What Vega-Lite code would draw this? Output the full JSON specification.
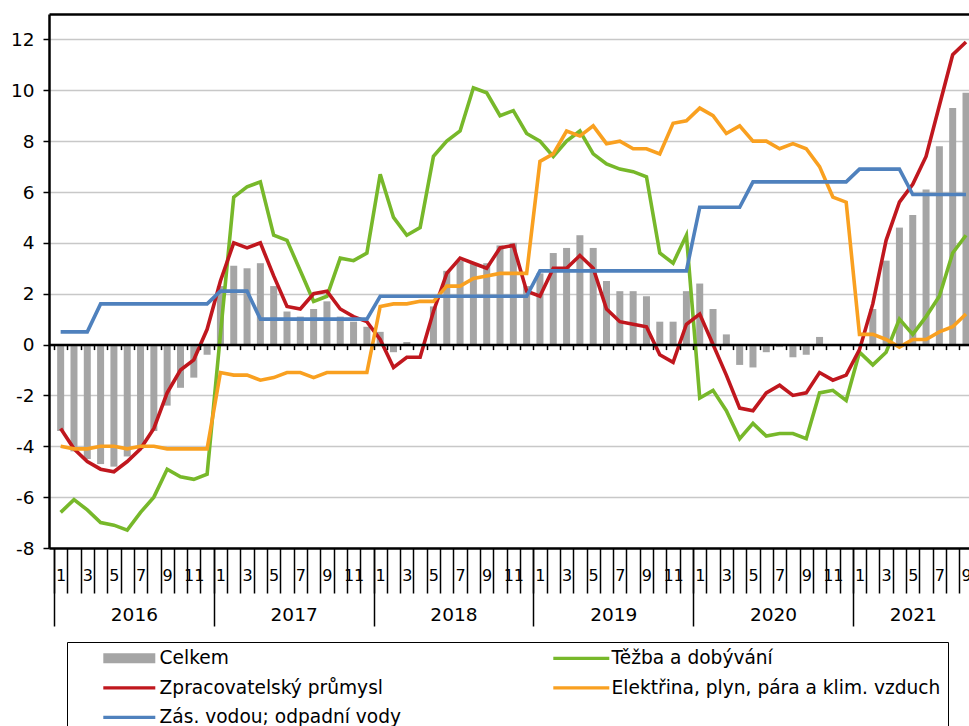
{
  "$schema": "https://vega.github.io/schema/vega-lite/v6.json",
  "width": 920,
  "height": 534,
  "autosize": {"type": "none"},
  "padding": {"left": 49, "top": 14, "right": 0, "bottom": 178},
  "config": {
    "view": {"stroke": null},
    "font": "DejaVu Sans",
    "axis": {"labelFont": "DejaVu Sans", "labelColor": "#000", "title": null}
  },
  "data": {"values": [
    {"m":0,"c":-3.4,"t":-6.6,"z":-3.3,"e":-4.0,"v":0.5},
    {"m":1,"c":-4.2,"t":-6.1,"z":-4.1,"e":-4.1,"v":0.5},
    {"m":2,"c":-4.5,"t":-6.5,"z":-4.6,"e":-4.1,"v":0.5},
    {"m":3,"c":-4.7,"t":-7.0,"z":-4.9,"e":-4.0,"v":1.6},
    {"m":4,"c":-4.8,"t":-7.1,"z":-5.0,"e":-4.0,"v":1.6},
    {"m":5,"c":-4.4,"t":-7.3,"z":-4.6,"e":-4.1,"v":1.6},
    {"m":6,"c":-4.1,"t":-6.6,"z":-4.1,"e":-4.0,"v":1.6},
    {"m":7,"c":-3.4,"t":-6.0,"z":-3.3,"e":-4.0,"v":1.6},
    {"m":8,"c":-2.4,"t":-4.9,"z":-1.9,"e":-4.1,"v":1.6},
    {"m":9,"c":-1.7,"t":-5.2,"z":-1.0,"e":-4.1,"v":1.6},
    {"m":10,"c":-1.3,"t":-5.3,"z":-0.6,"e":-4.1,"v":1.6},
    {"m":11,"c":-0.4,"t":-5.1,"z":0.6,"e":-4.1,"v":1.6},
    {"m":12,"c":2.3,"t":0.4,"z":2.5,"e":-1.1,"v":2.1},
    {"m":13,"c":3.1,"t":5.8,"z":4.0,"e":-1.2,"v":2.1},
    {"m":14,"c":3.0,"t":6.2,"z":3.8,"e":-1.2,"v":2.1},
    {"m":15,"c":3.2,"t":6.4,"z":4.0,"e":-1.4,"v":1.0},
    {"m":16,"c":2.3,"t":4.3,"z":2.7,"e":-1.3,"v":1.0},
    {"m":17,"c":1.3,"t":4.1,"z":1.5,"e":-1.1,"v":1.0},
    {"m":18,"c":1.1,"t":2.9,"z":1.4,"e":-1.1,"v":1.0},
    {"m":19,"c":1.4,"t":1.7,"z":2.0,"e":-1.3,"v":1.0},
    {"m":20,"c":1.7,"t":1.9,"z":2.1,"e":-1.1,"v":1.0},
    {"m":21,"c":1.1,"t":3.4,"z":1.4,"e":-1.1,"v":1.0},
    {"m":22,"c":0.9,"t":3.3,"z":1.1,"e":-1.1,"v":1.0},
    {"m":23,"c":0.7,"t":3.6,"z":0.9,"e":-1.1,"v":1.0},
    {"m":24,"c":0.5,"t":6.7,"z":0.2,"e":1.5,"v":1.9},
    {"m":25,"c":-0.3,"t":5.0,"z":-0.9,"e":1.6,"v":1.9},
    {"m":26,"c":0.1,"t":4.3,"z":-0.5,"e":1.6,"v":1.9},
    {"m":27,"c":0.0,"t":4.6,"z":-0.5,"e":1.7,"v":1.9},
    {"m":28,"c":1.5,"t":7.4,"z":1.3,"e":1.7,"v":1.9},
    {"m":29,"c":2.9,"t":8.0,"z":2.8,"e":2.3,"v":1.9},
    {"m":30,"c":3.3,"t":8.4,"z":3.4,"e":2.3,"v":1.9},
    {"m":31,"c":3.2,"t":10.1,"z":3.2,"e":2.6,"v":1.9},
    {"m":32,"c":3.2,"t":9.9,"z":3.0,"e":2.7,"v":1.9},
    {"m":33,"c":3.9,"t":9.0,"z":3.8,"e":2.8,"v":1.9},
    {"m":34,"c":4.0,"t":9.2,"z":3.9,"e":2.8,"v":1.9},
    {"m":35,"c":2.3,"t":8.3,"z":2.1,"e":2.8,"v":1.9},
    {"m":36,"c":2.8,"t":8.0,"z":1.9,"e":7.2,"v":2.9},
    {"m":37,"c":3.6,"t":7.4,"z":3.0,"e":7.5,"v":2.9},
    {"m":38,"c":3.8,"t":8.0,"z":3.0,"e":8.4,"v":2.9},
    {"m":39,"c":4.3,"t":8.4,"z":3.5,"e":8.2,"v":2.9},
    {"m":40,"c":3.8,"t":7.5,"z":3.0,"e":8.6,"v":2.9},
    {"m":41,"c":2.5,"t":7.1,"z":1.4,"e":7.9,"v":2.9},
    {"m":42,"c":2.1,"t":6.9,"z":0.9,"e":8.0,"v":2.9},
    {"m":43,"c":2.1,"t":6.8,"z":0.8,"e":7.7,"v":2.9},
    {"m":44,"c":1.9,"t":6.6,"z":0.7,"e":7.7,"v":2.9},
    {"m":45,"c":0.9,"t":3.6,"z":-0.4,"e":7.5,"v":2.9},
    {"m":46,"c":0.9,"t":3.2,"z":-0.7,"e":8.7,"v":2.9},
    {"m":47,"c":2.1,"t":4.3,"z":0.8,"e":8.8,"v":2.9},
    {"m":48,"c":2.4,"t":-2.1,"z":1.2,"e":9.3,"v":5.4},
    {"m":49,"c":1.4,"t":-1.8,"z":0.0,"e":9.0,"v":5.4},
    {"m":50,"c":0.4,"t":-2.6,"z":-1.2,"e":8.3,"v":5.4},
    {"m":51,"c":-0.8,"t":-3.7,"z":-2.5,"e":8.6,"v":5.4},
    {"m":52,"c":-0.9,"t":-3.1,"z":-2.6,"e":8.0,"v":6.4},
    {"m":53,"c":-0.3,"t":-3.6,"z":-1.9,"e":8.0,"v":6.4},
    {"m":54,"c":-0.1,"t":-3.5,"z":-1.6,"e":7.7,"v":6.4},
    {"m":55,"c":-0.5,"t":-3.5,"z":-2.0,"e":7.9,"v":6.4},
    {"m":56,"c":-0.4,"t":-3.7,"z":-1.9,"e":7.7,"v":6.4},
    {"m":57,"c":0.3,"t":-1.9,"z":-1.1,"e":7.0,"v":6.4},
    {"m":58,"c":0.0,"t":-1.8,"z":-1.4,"e":5.8,"v":6.4},
    {"m":59,"c":0.0,"t":-2.2,"z":-1.2,"e":5.6,"v":6.4},
    {"m":60,"c":0.0,"t":-0.3,"z":-0.2,"e":0.4,"v":6.9},
    {"m":61,"c":1.4,"t":-0.8,"z":1.6,"e":0.4,"v":6.9},
    {"m":62,"c":3.3,"t":-0.3,"z":4.1,"e":0.2,"v":6.9},
    {"m":63,"c":4.6,"t":1.0,"z":5.6,"e":-0.1,"v":6.9},
    {"m":64,"c":5.1,"t":0.4,"z":6.3,"e":0.2,"v":5.9},
    {"m":65,"c":6.1,"t":1.1,"z":7.4,"e":0.2,"v":5.9},
    {"m":66,"c":7.8,"t":1.9,"z":9.4,"e":0.5,"v":5.9},
    {"m":67,"c":9.3,"t":3.6,"z":11.4,"e":0.7,"v":5.9},
    {"m":68,"c":9.9,"t":4.3,"z":11.9,"e":1.2,"v":5.9}
  ]},
  "transform": [{"fold": ["c", "t", "z", "e", "v"], "as": ["s", "val"]}],
  "layer": [
    {
      "transform": [{"filter": "datum.s === 'c'"}],
      "mark": {"type": "bar", "size": 7, "color": "#A5A5A5", "clip": true},
      "encoding": {
        "x": {"field": "m", "type": "quantitative",
          "scale": {"domain": [-0.5, 67.85], "nice": false, "zero": false},
          "axis": {"orient": "bottom", "values": [-0.5,0.5,1.5,2.5,3.5,4.5,5.5,6.5,7.5,8.5,9.5,10.5,11.5,12.5,13.5,14.5,15.5,16.5,17.5,18.5,19.5,20.5,21.5,22.5,23.5,24.5,25.5,26.5,27.5,28.5,29.5,30.5,31.5,32.5,33.5,34.5,35.5,36.5,37.5,38.5,39.5,40.5,41.5,42.5,43.5,44.5,45.5,46.5,47.5,48.5,49.5,50.5,51.5,52.5,53.5,54.5,55.5,56.5,57.5,58.5,59.5,60.5,61.5,62.5,63.5,64.5,65.5,66.5,67.5],
            "labels": false, "grid": false, "tickSize": 45, "tickColor": "#000", "tickWidth": 1.5,
            "domainColor": "#000", "domainWidth": 2.5, "title": null}},
        "y": {"field": "val", "type": "quantitative",
          "scale": {"domain": [-8, 13], "nice": false, "zero": false},
          "axis": {"values": [-8,-6,-4,-2,0,2,4,6,8,10,12], "grid": true, "gridColor": "#C8C8C8", "gridWidth": 1.5,
            "tickSize": 6, "tickColor": "#000", "tickWidth": 1.5, "domainColor": "#000", "domainWidth": 2.5,
            "labelFontSize": 18.5, "labelPadding": 9, "title": null,
            "labelExpr": "datum.value < 0 ? '-' + abs(datum.value) : '' + datum.value"}}
      }
    },
    {
      "transform": [{"filter": "datum.s === 't'"}],
      "mark": {"type": "line", "color": "#77B82A", "strokeWidth": 3.6, "clip": true},
      "encoding": {
        "x": {"field": "m", "type": "quantitative",
          "axis": {"orient": "bottom", "values": [0,2,4,6,8,10,12,14,16,18,20,22,24,26,28,30,32,34,36,38,40,42,44,46,48,50,52,54,56,58,60,62,64,66,68],
            "labelExpr": "'' + ((datum.value % 12) + 1)", "ticks": false, "domain": false, "grid": false,
            "labelFontSize": 16, "labelPadding": 19, "labelOverlap": false, "labelBound": false, "title": null}},
        "y": {"field": "val", "type": "quantitative", "axis": null}
      }
    },
    {
      "transform": [{"filter": "datum.s === 'z'"}],
      "mark": {"type": "line", "color": "#C0171E", "strokeWidth": 3.6, "clip": true},
      "encoding": {
        "x": {"field": "m", "type": "quantitative",
          "axis": {"orient": "bottom", "values": [-0.5, 11.5, 23.5, 35.5, 47.5, 59.5],
            "labels": false, "domain": false, "grid": false, "tickSize": 78, "tickColor": "#000", "tickWidth": 1.5, "title": null}},
        "y": {"field": "val", "type": "quantitative", "axis": null}
      }
    },
    {
      "transform": [{"filter": "datum.s === 'e'"}],
      "mark": {"type": "line", "color": "#F9A020", "strokeWidth": 3.6, "clip": true},
      "encoding": {
        "x": {"field": "m", "type": "quantitative",
          "axis": {"orient": "bottom", "values": [5.5, 17.5, 29.5, 41.5, 53.5, 64],
            "labelExpr": "'' + (2016 + floor((datum.value + 0.5) / 12))", "ticks": false, "domain": false, "grid": false,
            "labelFontSize": 18.5, "labelPadding": 57, "labelOverlap": false, "title": null}},
        "y": {"field": "val", "type": "quantitative", "axis": null}
      }
    },
    {
      "transform": [{"filter": "datum.s === 'v'"}],
      "mark": {"type": "line", "color": "#4F81BD", "strokeWidth": 3.6, "clip": true},
      "encoding": {
        "x": {"field": "m", "type": "quantitative",
          "axis": {"orient": "bottom", "offset": -203.4, "values": [-0.5,0.5,1.5,2.5,3.5,4.5,5.5,6.5,7.5,8.5,9.5,10.5,11.5,12.5,13.5,14.5,15.5,16.5,17.5,18.5,19.5,20.5,21.5,22.5,23.5,24.5,25.5,26.5,27.5,28.5,29.5,30.5,31.5,32.5,33.5,34.5,35.5,36.5,37.5,38.5,39.5,40.5,41.5,42.5,43.5,44.5,45.5,46.5,47.5,48.5,49.5,50.5,51.5,52.5,53.5,54.5,55.5,56.5,57.5,58.5,59.5,60.5,61.5,62.5,63.5,64.5,65.5,66.5,67.5],
            "labels": false, "grid": false, "tickSize": 5, "tickColor": "#000", "tickWidth": 1.5,
            "domainColor": "#000", "domainWidth": 2.5, "title": null, "zindex": 1}},
        "y": {"field": "val", "type": "quantitative", "axis": null}
      }
    },
    {
      "mark": {"type": "point", "filled": true, "opacity": 0, "clip": true},
      "encoding": {
        "x": {"field": "m", "type": "quantitative",
          "axis": {"orient": "top", "labels": false, "ticks": false, "grid": false, "domainColor": "#000", "domainWidth": 2.5, "title": null}},
        "y": {"field": "val", "type": "quantitative", "axis": null},
        "color": {"field": "s", "type": "nominal",
          "scale": {"domain": ["c", "z", "v", "t", "e"], "range": ["#A5A5A5", "#C0171E", "#4F81BD", "#77B82A", "#F9A020"]},
          "legend": {"orient": "none", "legendX": 18, "legendY": 628, "columns": 2, "title": null,
            "strokeColor": "#000", "padding": 7, "symbolSize": 100, "symbolOffset": 46, "labelOffset": 21,
            "symbolStrokeWidth": 0, "symbolOpacity": 1, "labelFont": "DejaVu Sans", "labelFontSize": 18.6, "labelLimit": 0,
            "columnPadding": 125, "rowPadding": 10.5,
            "labelExpr": "datum.label === 'c' ? 'Celkem' : datum.label === 't' ? 'Těžba a dobývání' : datum.label === 'z' ? 'Zpracovatelský průmysl' : datum.label === 'e' ? 'Elektřina, plyn, pára a klim. vzduch\u00a0\u00a0\u00a0\u00a0\u00a0\u00a0\u00a0\u00a0' : 'Zás. vodou; odpadní vody'"}},
        "shape": {"field": "s", "type": "nominal",
          "scale": {"domain": ["c", "z", "v", "t", "e"], "range": ["M-5.2,-1H5.2V1H-5.2Z", "M-5.2,-0.33H5.2V0.33H-5.2Z", "M-5.2,-0.33H5.2V0.33H-5.2Z", "M-5.6,-0.33H5.6V0.33H-5.6Z", "M-5.6,-0.33H5.6V0.33H-5.6Z"]},
          "legend": {"orient": "none", "legendX": 18, "legendY": 628, "columns": 2, "title": null,
            "strokeColor": "#000", "padding": 7, "symbolSize": 100, "symbolOffset": 46, "labelOffset": 21,
            "symbolStrokeWidth": 0, "symbolOpacity": 1, "labelFont": "DejaVu Sans", "labelFontSize": 18.6, "labelLimit": 0,
            "columnPadding": 125, "rowPadding": 10.5,
            "labelExpr": "datum.label === 'c' ? 'Celkem' : datum.label === 't' ? 'Těžba a dobývání' : datum.label === 'z' ? 'Zpracovatelský průmysl' : datum.label === 'e' ? 'Elektřina, plyn, pára a klim. vzduch\u00a0\u00a0\u00a0\u00a0\u00a0\u00a0\u00a0\u00a0' : 'Zás. vodou; odpadní vody'"}}
      }
    }
  ],
  "resolve": {"axis": {"x": "independent", "y": "independent"}}
}
